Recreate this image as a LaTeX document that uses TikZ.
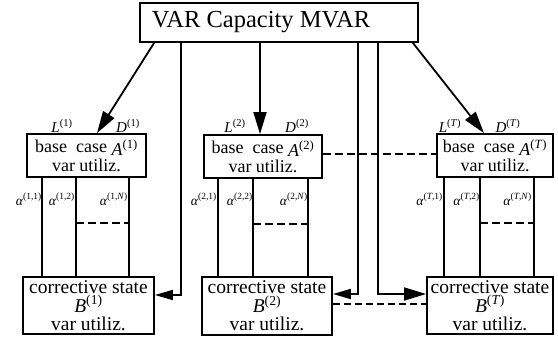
\documentclass[tikz,border=0pt]{standalone}
\usepackage{fontspec}
\setmainfont{Liberation Serif}
\usetikzlibrary{arrows.meta,calc}

% superscript index such as (1) or (T), set upright with italic letters given explicitly
\newcommand{\idx}[1]{\textsuperscript{(#1)}}
\newcommand{\sym}[2]{\textit{#1}\idx{#2}}

\begin{document}
\begin{tikzpicture}[x=1pt,y=-1pt,
  box/.style={draw, line width=1.8pt, inner sep=0pt, align=center},
  basebox/.style={box, minimum width=119pt, minimum height=43pt,
    font=\fontsize{18}{19}\selectfont},
  corrbox/.style={box, minimum width=130pt, minimum height=57pt,
    font=\fontsize{19.5}{19}\selectfont},
  wire/.style={line width=1.8pt},
  arr/.style={line width=1.8pt, -{Triangle[length=22pt,width=13pt]}},
  sidearr/.style={line width=1.8pt, -{Triangle[length=18pt,width=10pt]}},
  dashline/.style={line width=2pt, dash pattern=on 8pt off 4pt},
  thindash/.style={line width=1.6pt, dash pattern=on 7pt off 4pt},
  lab/.style={font=\fontsize{15}{15}\selectfont, inner sep=0pt, anchor=base},
  alab/.style={font=\fontsize{13.5}{13.5}\selectfont, inner sep=0pt, anchor=base east},
]
\useasboundingbox (0,0) rectangle (558,341);

% capacity box, its title set a little left of centre
\node[box, minimum width=278pt, minimum height=39pt,
  font=\fontsize{24.5}{24.5}\selectfont] (top) at (279,22.5) {VAR Capacity MVAR\hspace{36pt}};

% base case boxes
\node[basebox] (a1) at (86.5,155.5)
  {base\ \ case \raisebox{-3pt}{\sym{A}{1}}\\var utiliz.};
\node[basebox, minimum width=118pt] (a2) at (263,156.5)
  {base\ \ case \raisebox{-3pt}{\sym{A}{2}}\\var utiliz.};
\node[basebox, minimum width=116pt] (a3) at (495,155.5)
  {base\ \ case \raisebox{-3pt}{\sym{A}{\textit{T}}}\\var utiliz.};

% corrective state boxes
\node[corrbox, minimum width=131pt] (b1) at (88.5,305.5)
  {corrective state\\[0pt]\sym{B}{1}\\[-1pt]var utiliz.};
\node[corrbox, minimum height=58pt] (b2) at (267,306)
  {corrective state\\[0pt]\sym{B}{2}\\[-1pt]var utiliz.};
\node[corrbox, minimum width=126pt] (b3) at (490,305.5)
  {corrective state\\[0pt]\sym{B}{\textit{T}}\\[-1pt]var utiliz.};

% L and D labels above the base case boxes
\node[lab] (l1) at (62,132) {\sym{L}{1}};
\node[lab] (d1) at (128,132) {\sym{D}{1}};
\node[lab] (l2) at (235,132) {\sym{L}{2}};
\node[lab] (d2) at (297,132) {\sym{D}{2}};
\node[lab] (l3) at (450,132) {\sym{L}{\textit{T}}};
\node[lab] (d3) at (508,132) {\sym{D}{\textit{T}}};

% arrows from the capacity box
\draw[arr] ([xshift=15pt]top.south west) -- ([xshift=10.5pt]a1.north);
\draw[arr] ([xshift=-19pt]top.south) -- ([xshift=-19pt]top.south |- a2.north);
\draw[arr] ([xshift=-6pt]top.south east) -- ([xshift=-11pt]a3.north);
\draw[sidearr] ([xshift=42pt]top.south west) |- ([yshift=10.5pt]b1.east);
\draw[sidearr] ([xshift=-61pt]top.south east) |- ([yshift=12pt]b2.east);
\draw[arr] ([xshift=-41pt]top.south east) |- ([yshift=11.5pt]b3.west);

% links between consecutive periods
\draw[dashline] ([yshift=2.5pt]a2.east) -- ([yshift=2.5pt]a2.east -| a3.west);
\draw[thindash] ([yshift=2pt]b2.east) -- ([yshift=2pt]b2.east -| b3.west);

% contingency branches between base case and corrective state
\foreach \bx/\corr/\xa/\xb/\xc in {a1/b1/16/50/103, a2/b2/15/50/105, a3/b3/8/44/98}{
  \draw[wire] ([xshift=\xa pt]\bx.south west) -- ([xshift=\xa pt]\bx.south west |- \corr.north);
  \draw[wire] ([xshift=\xb pt]\bx.south west) -- ([xshift=\xb pt]\bx.south west |- \corr.north);
  \draw[wire] ([xshift=\xc pt]\bx.south west) -- ([xshift=\xc pt]\bx.south west |- \corr.north);
  \coordinate (\bx-m) at ([xshift=\xb pt, yshift=-45pt]\bx.south west);
  \coordinate (\bx-n) at ([xshift=\xc pt, yshift=-45pt]\bx.south west);
  \draw[dashline] (\bx-m) -- (\bx-n);
}

% branch labels
\node[alab] (al11) at (42,205) {\textit{α}\idx{1,1}};
\node[alab] (al12) at (75,205) {\textit{α}\idx{1,2}};
\node[alab] (al1n) at (128,205) {\textit{α}\idx{1,\textit{N}}};
\node[alab] (al21) at (217,205) {\textit{α}\idx{2,1}};
\node[alab] (al22) at (253,205) {\textit{α}\idx{2,2}};
\node[alab] (al2n) at (308,205) {\textit{α}\idx{2,\textit{N}}};
\node[alab] (al31) at (443,205) {\textit{α}\idx{\textit{T},1}};
\node[alab] (al32) at (480,205) {\textit{α}\idx{\textit{T},2}};
\node[alab] (al3n) at (532,205) {\textit{α}\idx{\textit{T},\textit{N}}};
\end{tikzpicture}
\end{document}
